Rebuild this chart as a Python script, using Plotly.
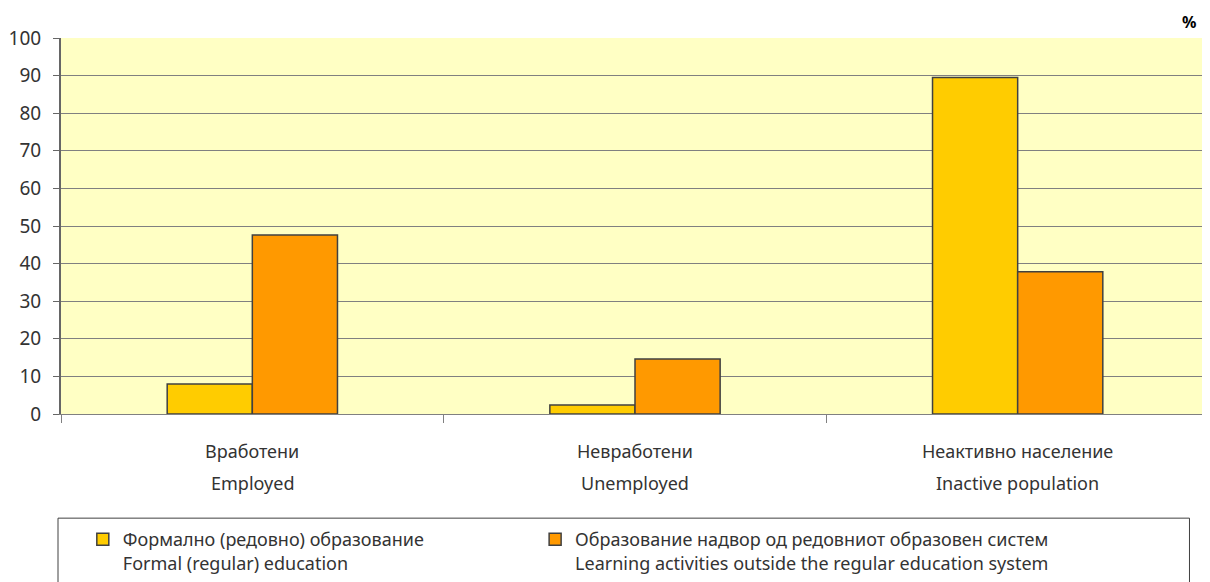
import plotly.graph_objects as go

# --- data ---
categories = ["Вработени", "Невработени", "Неактивно население"]
categories_en = ["Employed", "Unemployed", "Inactive population"]
formal = [8.0, 2.4, 89.5]
outside = [47.6, 14.6, 37.8]
series_names = [
    "Формално (редовно) образование<br>Formal (regular) education",
    "Образование надвор од редовниот образовен систем<br>Learning activities outside the regular education system",
]
y_ticks = list(range(0, 101, 10))

FONT = "Noto Sans, Open Sans, sans-serif"
TXT = "#333333"
OUTLINE = dict(color="#404040", width=1.5)

fig = go.Figure()
fig.add_trace(go.Bar(x=categories, y=formal, name=series_names[0], legend="legend",
                     marker=dict(color="#FFCC00", line=OUTLINE)))
fig.add_trace(go.Bar(x=categories, y=outside, name=series_names[1], legend="legend2",
                     marker=dict(color="#FF9900", line=OUTLINE)))

# two-line category labels (local + english)
for c, en in zip(categories, categories_en):
    fig.add_annotation(x=c, y=-0.098, xref="x", yref="paper", text=c,
                       showarrow=False, yanchor="middle",
                       font=dict(family=FONT, size=18, color=TXT))
    fig.add_annotation(x=c, y=-0.184, xref="x", yref="paper", text=en,
                       showarrow=False, yanchor="middle",
                       font=dict(family=FONT, size=18, color=TXT))

fig.add_annotation(x=0.983, y=1.043, xref="paper", yref="paper",
                   text="<b>%</b>", showarrow=False, xanchor="center", yanchor="middle",
                   font=dict(family=FONT, size=16, color="#000000"))

# legend frame
fig.add_shape(type="rect", xref="paper", yref="paper",
              x0=-0.0026, x1=0.983, y0=-0.6, y1=-0.277,
              line=dict(color="#404040", width=1), fillcolor="rgba(0,0,0,0)")

LEG = dict(orientation="h", y=-0.285, xanchor="left", yanchor="top",
           valign="top", font=dict(family=FONT, size=18, color=TXT),
           bgcolor="rgba(0,0,0,0)", borderwidth=0)

fig.update_layout(
    width=1202, height=574,
    margin=dict(l=53, r=1, t=30, b=168),
    paper_bgcolor="white",
    plot_bgcolor="#FFFFC4",
    showlegend=True,
    barmode="group",
    bargap=0.555,
    bargroupgap=0,
    font=dict(family=FONT, size=18, color=TXT),
    xaxis=dict(type="category", showticklabels=False, ticks="outside",
               tickson="boundaries", ticklen=8, tickcolor="#808080",
               showline=True, linecolor="#808080", linewidth=1),
    yaxis=dict(range=[0, 100], tickvals=y_ticks, ticks="outside", ticklen=6,
               ticklabelstandoff=8,
               tickcolor="#666666", showline=True, linecolor="#666666",
               linewidth=2, mirror=False, gridcolor="#808080", gridwidth=1,
               zeroline=False, tickfont=dict(family=FONT, size=19, color=TXT)),
    legend=dict(LEG, x=0.019),
    legend2=dict(LEG, x=0.413),
)
# right frame edge
fig.add_shape(type="line", xref="paper", yref="paper", x0=1, x1=1, y0=0, y1=1,
              line=dict(color="#909090", width=1.5))

fig.write_html("out.html")
